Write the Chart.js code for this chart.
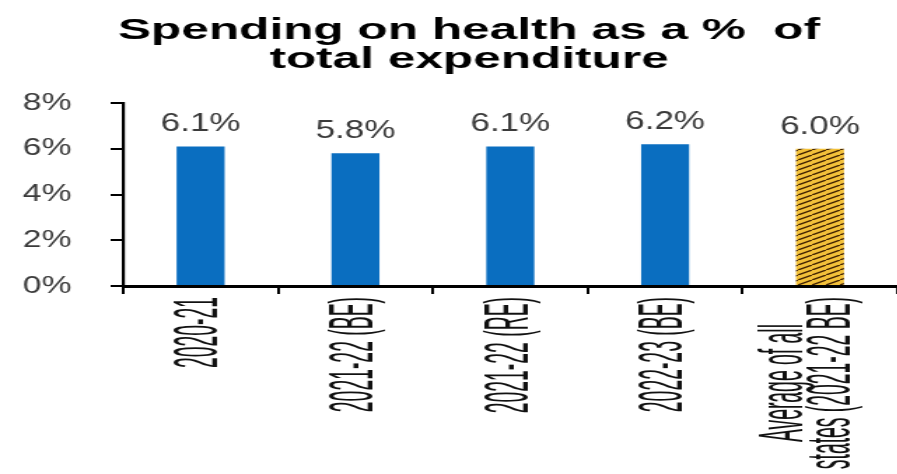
<!DOCTYPE html>
<html>
<head>
<meta charset="utf-8">
<script src="https://cdn.jsdelivr.net/npm/chart.js@4/dist/chart.umd.min.js"></script>
<style>
  html, body { margin: 0; padding: 0; background: #fff; overflow: hidden; }
  /* the reference is stretched sideways, so draw narrow and widen it */
  #healthChart { transform: scaleX(1.4); transform-origin: 0 0; display: block; }
</style>
</head>
<body>
<canvas id="healthChart" width="641" height="474"></canvas>
<script>
const categories = ["2020-21", "2021-22 (BE)", "2021-22 (RE)", "2022-23 (BE)", ["Average of all", "states (2021-22 BE)"]];
const healthShare = [6.1, 5.8, 6.1, 6.2, 6.0];
const yTickValues = [0, 2, 4, 6, 8];
const titleLines = ["Spending on health as a %  of", "total expenditure"];

const SANS = "'Liberation Sans', Arial, sans-serif";

// yellow bar with dark diagonal hatching
function hatch() {
  const c = document.createElement("canvas");
  c.width = 10;
  c.height = 5;
  const g = c.getContext("2d");
  g.fillStyle = "#f3c13a";
  g.fillRect(0, 0, 10, 5);
  g.strokeStyle = "#3b1d00";
  g.lineWidth = 1.3;
  g.beginPath();
  g.moveTo(-1, 5.5);
  g.lineTo(11, -0.5);
  g.stroke();
  return g.createPattern(c, "repeat");
}

const barColors = healthShare.map((v, i) => (i === healthShare.length - 1 ? hatch() : "#0a6ec0"));

// title, a bit right of centre and wider, like the original
const titleText = {
  id: "titleText",
  afterDraw(chart) {
    const c = chart.ctx;
    c.save();
    c.translate(335, 0);
    c.scale(1.18, 1);
    c.font = "bold 30px " + SANS;
    c.fillStyle = "#000";
    c.textAlign = "center";
    c.textBaseline = "alphabetic";
    c.fillText(titleLines[0], 0, 39);
    c.fillText(titleLines[1], 0, 68);
    c.restore();
  }
};

// value labels above the bars
const valueLabels = {
  id: "valueLabels",
  afterDatasetsDraw(chart) {
    const c = chart.ctx;
    const meta = chart.getDatasetMeta(0);
    c.save();
    c.font = "25px " + SANS;
    c.fillStyle = "#3a3a3a";
    c.textAlign = "center";
    c.textBaseline = "alphabetic";
    meta.data.forEach((bar, i) => {
      c.fillText(healthShare[i].toFixed(1) + "%", bar.x, bar.y - 15);
    });
    c.restore();
  }
};

// category labels: rotated and squeezed, like the narrow font in the original
const categoryLabels = {
  id: "categoryLabels",
  afterDraw(chart) {
    const c = chart.ctx;
    const xs = chart.scales.x;
    const squeeze = 0.44;
    const lineGap = 34;
    c.save();
    c.font = "44px " + SANS;
    c.fillStyle = "#111";
    c.textAlign = "center";
    c.textBaseline = "middle";
    categories.forEach((lab, i) => {
      const lines = Array.isArray(lab) ? lab : [lab];
      const longest = Math.max(...lines.map(l => c.measureText(l).width)) * squeeze;
      const x = xs.getPixelForTick(i) - (lines.length > 1 ? 8 : 0);
      const mid = xs.top + 11 + longest / 2;
      lines.forEach((l, j) => {
        c.save();
        c.translate(x + (j - (lines.length - 1) / 2) * lineGap, mid);
        c.rotate(-Math.PI / 2);
        c.scale(squeeze, 1);
        c.fillText(l, 0, 0);
        c.restore();
      });
    });
    c.restore();
  }
};

const ctx = document.getElementById("healthChart").getContext("2d");
new Chart(ctx, {
  type: "bar",
  data: {
    labels: categories,
    datasets: [{
      label: "Health share",
      data: healthShare,
      backgroundColor: barColors,
      barPercentage: 0.31,
      categoryPercentage: 1
    }]
  },
  options: {
    responsive: false,
    devicePixelRatio: 1,
    animation: false,
    layout: { padding: { left: 0, right: 0, top: 103, bottom: 0 } },
    plugins: {
      legend: { display: false },
      tooltip: { enabled: false },
      title: { display: false }
    },
    scales: {
      y: {
        min: 0,
        max: 8,
        afterBuildTicks: (scale) => { scale.ticks = yTickValues.map(v => ({ value: v })); },
        afterFit: (scale) => { scale.width = 88; },
        border: { color: "#000", width: 2.2 },
        grid: { drawOnChartArea: false, color: "#000", lineWidth: 2, tickLength: 9 },
        ticks: {
          padding: 28,
          color: "#3a3a3a",
          font: { family: SANS, size: 24 },
          callback: (v) => v + "%"
        }
      },
      x: {
        afterFit: (scale) => { scale.height = 188; },
        border: { color: "#000", width: 3 },
        grid: { drawOnChartArea: false, offset: true, color: "#000", lineWidth: 2, tickLength: 8 },
        ticks: { display: false, autoSkip: false }
      }
    }
  },
  plugins: [valueLabels, categoryLabels, titleText]
});
</script>
</body>
</html>
